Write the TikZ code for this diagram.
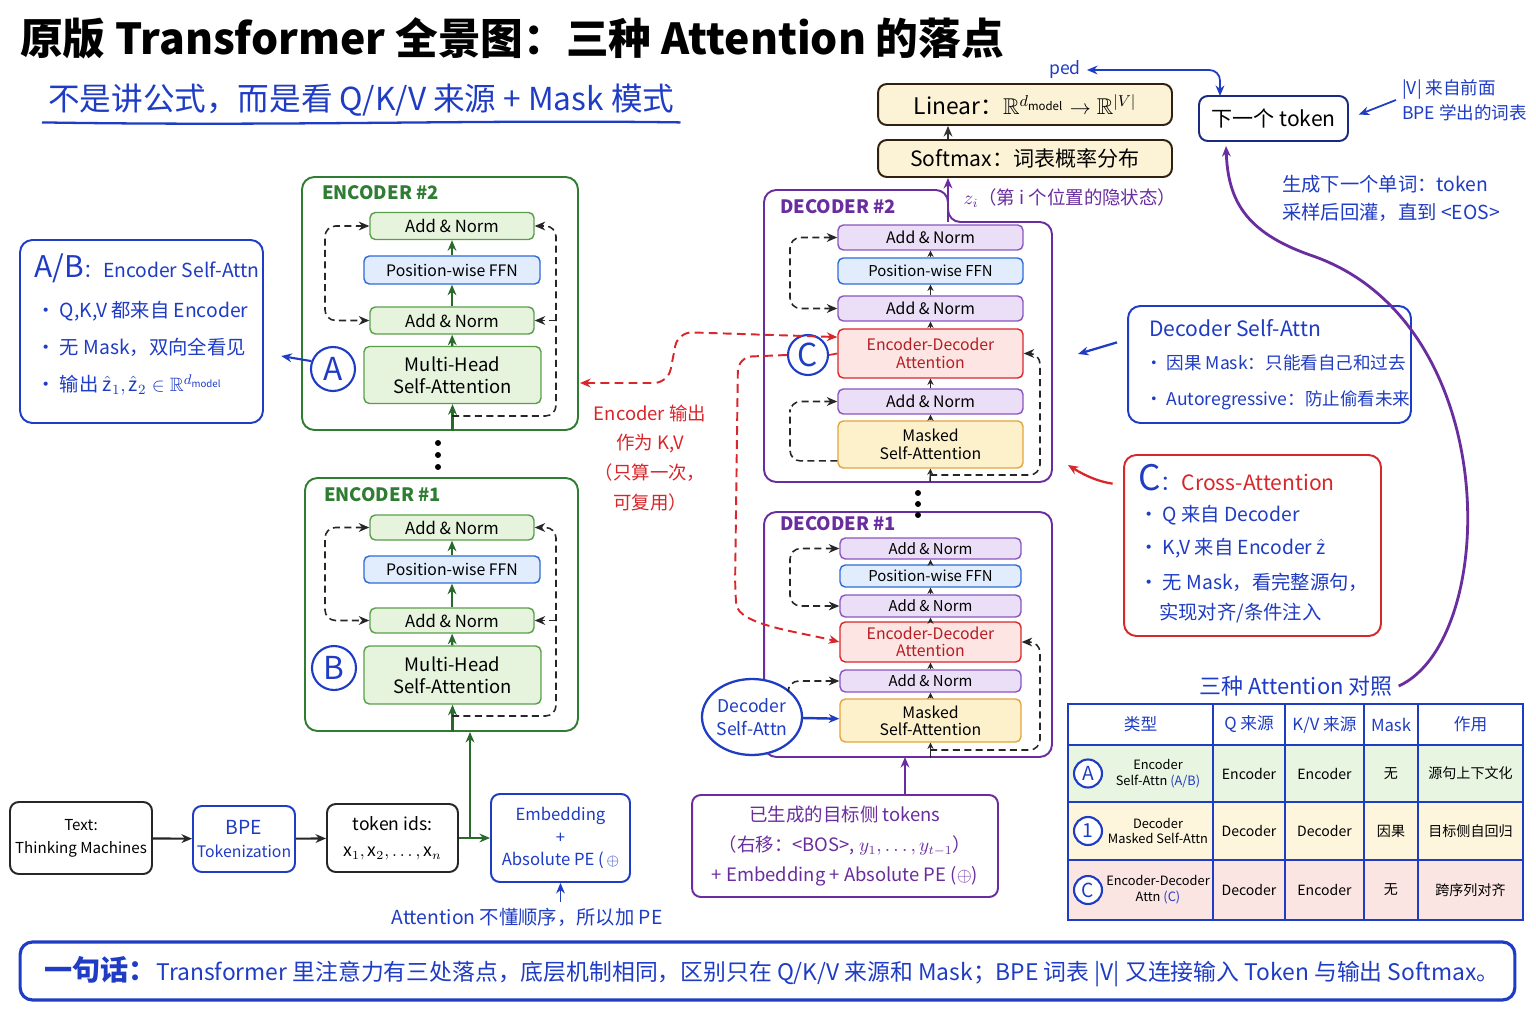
\documentclass[tikz,border=0pt]{standalone}
\usepackage{amsmath,amssymb}
\usepackage{xcolor}
\usepackage{fontspec}
\setmainfont{Noto Sans CJK SC}
\usetikzlibrary{arrows.meta,positioning,shapes.geometric,calc}

\definecolor{ink}{HTML}{1F3CC4}
\definecolor{navy}{HTML}{1A2A80}
\definecolor{encgreen}{HTML}{2E7D32}
\definecolor{encline}{HTML}{5A9E4B}
\definecolor{encfill}{HTML}{E6F4DD}
\definecolor{ffnline}{HTML}{2F6BD8}
\definecolor{ffnfill}{HTML}{E1ECFD}
\definecolor{decpurple}{HTML}{6A2D9F}
\definecolor{decline}{HTML}{8A55C0}
\definecolor{decfill}{HTML}{EADFF7}
\definecolor{edared}{HTML}{D9262A}
\definecolor{edatext}{HTML}{B51D22}
\definecolor{edafill}{HTML}{FDE5E3}
\definecolor{msaline}{HTML}{E3A43C}
\definecolor{msafill}{HTML}{FDF1CC}
\definecolor{linfill}{HTML}{FCF3D6}
\definecolor{rowA}{HTML}{E8F5E1}
\definecolor{rowB}{HTML}{FDF6DC}
\definecolor{rowC}{HTML}{FBE5E2}

\begin{document}
\begin{tikzpicture}[x=0.02cm, y=-0.02cm, >={Stealth[length=6pt,width=5pt]},
    boxframe/.style={draw, rounded corners=7pt, line width=1.1pt, fill=white},
    encframe/.style={boxframe, draw=encgreen},
    decframe/.style={boxframe, draw=decpurple},
    blk/.style={draw, rounded corners=3pt, line width=0.8pt, inner sep=0pt},
    eAN/.style={blk, draw=encline, fill=encfill, minimum width=3.28cm, minimum height=0.54cm, font=\fontsize{9.5}{11}\selectfont},
    eFFN/.style={blk, draw=ffnline, fill=ffnfill, minimum width=3.52cm, minimum height=0.56cm, font=\fontsize{9}{11}\selectfont},
    eMHA/.style={blk, draw=encline, fill=encfill, minimum width=3.54cm, minimum height=1.14cm, align=center, font=\fontsize{10.5}{12.5}\selectfont},
    dAN/.style={blk, draw=decline, fill=decfill, minimum width=3.7cm, font=\fontsize{9}{10}\selectfont},
    dFFN/.style={blk, draw=ffnline, fill=ffnfill, minimum width=3.7cm, font=\fontsize{8.5}{10}\selectfont},
    dEDA/.style={blk, draw=edared, fill=edafill, text=edatext, minimum width=3.7cm, align=center, font=\fontsize{9}{10.5}\selectfont},
    dMSA/.style={blk, draw=msaline, fill=msafill, minimum width=3.7cm, align=center, font=\fontsize{9}{10.5}\selectfont},
    stacklabel/.style={anchor=west, font=\fontsize{10.5}{12}\selectfont\bfseries},
    tagcirc/.style={circle, draw=ink, line width=1.2pt, fill=white, text=ink, inner sep=0pt, minimum size=0.88cm, font=\fontsize{18}{18}\selectfont},
    resid/.style={draw=black!85, dashed, dash pattern=on 4pt off 2.5pt, line width=0.9pt, rounded corners=6pt},
    garr/.style={->, draw=encgreen!85!black, line width=1.2pt},
    karr/.style={->, draw=black!85, line width=0.8pt, >={Stealth[length=3.5pt,width=3.5pt]}},
    parr/.style={->, draw=decpurple, line width=1.4pt},
    barr/.style={->, draw=ink, line width=1pt},
    rarr/.style={->, draw=edared, line width=1pt},
    kvline/.style={draw=edared, dashed, dash pattern=on 5pt off 3pt, line width=1.1pt, rounded corners=8pt},
    bluenote/.style={text=ink, align=left},
    iobox/.style={draw, rounded corners=5pt, line width=1.1pt, fill=white, align=center, inner sep=0pt}]

    \fill[white] (0,0) rectangle (1536,1024);

    % title and subtitle
    \node[anchor=west, font=\fontsize{24.3}{28}\selectfont\bfseries] (title) at (14,38) {原版 Transformer 全景图：三种 Attention 的落点};
    \node[anchor=west, text=ink, font=\fontsize{18}{20}\selectfont] (subtitle) at (42,100) {不是讲公式，而是看 Q/K/V 来源 + Mask 模式};
    \draw[ink, line width=1.3pt] (subtitle.south west) .. controls +(250,4) and +(-200,-3) .. (subtitle.south east);

    % output head
    \node[iobox, draw=black!75!brown, fill=linfill, minimum width=5.88cm, minimum height=0.82cm, font=\fontsize{13}{14}\selectfont] (linear) at (1025,104.5) {Linear：$\mathbb{R}^{d_{\mathrm{model}}}\rightarrow\mathbb{R}^{|V|}$};
    \node[iobox, draw=black!75!brown, fill=linfill, minimum width=5.88cm, minimum height=0.74cm, font=\fontsize{12}{14}\selectfont] (softmax) at (1025,158.5) {Softmax：词表概率分布};
    \coordinate (d2top) at (948,222);
    \draw[parr] (d2top) -- (d2top |- softmax.south);
    \draw[->, line width=1.1pt, black!80] (softmax.north -| d2top) -- (linear.south -| d2top);
    \node[text=decpurple, font=\fontsize{10.5}{12}\selectfont] (zlabel) at (1070,198) {$z_i$（第 i 个位置的隐状态）};

    \node[iobox, draw=navy, minimum width=2.98cm, minimum height=0.9cm, font=\fontsize{12}{14}\selectfont] (nexttok) at (1273.5,118.5) {下一个 token};
    \node[text=ink, font=\fontsize{10}{12}\selectfont] (ped) at (1065,70) {ped};
    \coordinate (ntin) at (1220,96);
    \draw[barr, <->, rounded corners=6pt] (ped.east) -| (ntin);
    \node[bluenote, anchor=west, font=\fontsize{10}{14}\selectfont] (vnote) at (1396,100) {|V| 来自前面\\BPE 学出的词表};
    \draw[barr, shorten >=6pt] (vnote.west) -- (nexttok.east);
    \node[bluenote, anchor=west, font=\fontsize{11}{16}\selectfont] (gennote) at (1276,198) {生成下一个单词：token\\采样后回灌，直到 <EOS>};

    % encoder #2
    \node[encframe, minimum width=5.52cm, minimum height=5.06cm] (enc2) at (440,303.5) {};
    \node[stacklabel, text=encgreen] (enc2lbl) at (316,193) {ENCODER \#2};
    \node[eAN] (an2t) at (452,226) {Add \& Norm};
    \node[eFFN] (ffn2) at (452,270) {Position-wise FFN};
    \node[eAN] (an2b) at (452,320.5) {Add \& Norm};
    \node[eMHA] (mha2) at (452.5,375) {Multi-Head\\Self-Attention};
    \node[tagcirc] (tagA) at (333,369) {A};
    \foreach \a/\b in {mha2/an2b, an2b/ffn2, ffn2/an2t}
        \draw[garr] (\a) -- (\b);
    \draw[garr] (mha2.south |- enc2.south) -- (mha2.south);
    \coordinate (e2in) at (452,416);
    \coordinate (e2rail) at (556,416);
    \draw[resid, <->] (an2t.west) -| (325,270) |- (an2b.west);
    \draw[resid, ->] (e2in) -- (e2rail) |- (an2t.east);
    \draw[resid, ->] (e2rail |- an2b.east) -- (an2b.east);

    \foreach \y in {443,455,467}
        \fill (438,\y) circle (1.7pt);

    % encoder #1
    \node[encframe, minimum width=5.46cm, minimum height=5.06cm] (enc1) at (441.5,604.5) {};
    \node[stacklabel, text=encgreen] (enc1lbl) at (318,495) {ENCODER \#1};
    \node[eAN, minimum height=0.5cm] (an1t) at (452,527.5) {Add \& Norm};
    \node[eFFN, minimum height=0.54cm] (ffn1) at (452,569.5) {Position-wise FFN};
    \node[eAN, minimum height=0.5cm] (an1b) at (452,620.5) {Add \& Norm};
    \node[eMHA, minimum height=1.16cm] (mha1) at (452.5,675) {Multi-Head\\Self-Attention};
    \node[tagcirc] (tagB) at (334,668) {B};
    \foreach \a/\b in {mha1/an1b, an1b/ffn1, ffn1/an1t}
        \draw[garr] (\a) -- (\b);
    \draw[garr] (mha1.south |- enc1.south) -- (mha1.south);
    \coordinate (e1in) at (452,716);
    \coordinate (e1rail) at (556,716);
    \draw[resid, <->] (an1t.west) -| (325,570) |- (an1b.west);
    \draw[resid, ->] (e1in) -- (e1rail) |- (an1t.east);
    \draw[resid, ->] (e1rail |- an1b.east) -- (an1b.east);

    % A/B callout
    \node[boxframe, draw=ink, minimum width=4.86cm, minimum height=3.66cm] (abnote) at (141.5,331.5) {};
    \node[bluenote, anchor=west, font=\fontsize{11}{13}\selectfont] (abhead) at (28,268) {{\fontsize{17}{17}\selectfont A/B}：Encoder Self-Attn};
    \node[bluenote, anchor=west, font=\fontsize{11}{13}\selectfont] (ab1) at (30,311) {• Q,K,V 都来自 Encoder};
    \node[bluenote, anchor=west, font=\fontsize{11}{13}\selectfont] (ab2) at (30,347) {• 无 Mask，双向全看见};
    \node[bluenote, anchor=west, font=\fontsize{11}{13}\selectfont] (ab3) at (30,385) {• 输出 $\hat{\mathrm{z}}_1,\hat{\mathrm{z}}_2\in\mathbb{R}^{d_{\mathrm{model}}}$};
    \draw[barr, line width=1.2pt, shorten >=10pt] (tagA.160) -- (abnote.-10);

    % input pipeline
    \node[iobox, draw=black!85, minimum width=2.84cm, minimum height=1.44cm, font=\fontsize{8.6}{13}\selectfont] (srctext) at (81,838) {Text:\\Thinking Machines};
    \node[iobox, draw=ink, text=ink, minimum width=2.04cm, minimum height=1.32cm, font=\fontsize{9}{13}\selectfont] (bpe) at (244,839) {{\fontsize{11}{13}\selectfont BPE}\\Tokenization};
    \node[iobox, draw=black!85, minimum width=2.62cm, minimum height=1.36cm, font=\fontsize{10}{15}\selectfont] (tokids) at (392.5,838) {token ids:\\$\mathrm{x}_1,\mathrm{x}_2,\dots,\mathrm{x}_n$};
    \node[iobox, draw=ink, text=ink, minimum width=2.78cm, minimum height=1.76cm, font=\fontsize{9.5}{13}\selectfont] (embed) at (560.5,838) {Embedding\\+\\Absolute PE (\,$\oplus$};
    \draw[->, line width=1.2pt, black!85] (srctext) -- (bpe);
    \draw[->, line width=1.2pt, black!85] (bpe) -- (tokids);
    \draw[garr] (tokids) -- (embed);
    \coordinate (encjoin) at (470,838);
    \draw[garr] (encjoin) -- (encjoin |- enc1.south);
    \node[bluenote, font=\fontsize{11}{13}\selectfont] (penote) at (527,917) {Attention 不懂顺序，所以加 PE};
    \draw[barr, line width=0.8pt] (penote.north -| embed.south) -- (embed.south);

    % decoder #2
    \draw[decpurple, line width=1.1pt, rounded corners=7pt] (764,482) -- (764,190) -- (948,190) -- (948,222) -- (1052,222) -- (1052,482) -- cycle;
    \node[stacklabel, text=decpurple] (dec2lbl) at (774,207) {DECODER \#2};
    \node[dAN, minimum height=0.5cm] (d2an3) at (930.5,237.5) {Add \& Norm};
    \node[dFFN, minimum height=0.52cm] (d2ffn) at (930.5,271) {Position-wise FFN};
    \node[dAN, minimum height=0.5cm] (d2an2) at (930.5,308.5) {Add \& Norm};
    \node[dEDA, minimum height=0.98cm] (d2eda) at (930.5,353.5) {Encoder-Decoder\\Attention};
    \node[dAN, minimum height=0.5cm] (d2an1) at (930.5,401.5) {Add \& Norm};
    \node[dMSA, minimum height=0.94cm] (d2msa) at (930.5,444.5) {Masked\\Self-Attention};
    \foreach \a/\b in {d2msa/d2an1, d2an1/d2eda, d2eda/d2an2, d2an2/d2ffn, d2ffn/d2an3}
        \draw[karr] (\a) -- (\b);
    \coordinate (d2bot) at (930,482);
    \draw[karr] (d2bot) -- (d2msa.south);
    \coordinate (d2in) at (930,475);
    \coordinate (d2rail) at (1040,475);
    \draw[resid, <->] (d2an3.west) -| (790,270) |- (d2an2.west);
    \draw[resid, ->] (d2msa.-170) -| (790,420) |- (d2an1.west);
    \draw[resid, ->] (d2in) -- (d2rail) |- (d2eda.east);
    \node[tagcirc, minimum size=0.8cm] (tagC) at (808,355) {C};
    \draw[edared, line width=1pt] (tagC.east) -- (d2eda.west);

    % decoder #1
    \node[decframe, minimum width=5.76cm, minimum height=4.9cm] (dec1) at (908,634.5) {};
    \foreach \y in {493,504,515}
        \fill (918,\y) circle (1.7pt);
    \node[stacklabel, text=decpurple] (dec1lbl) at (774,524) {DECODER \#1};
    \node[dAN, minimum width=3.62cm, minimum height=0.42cm, font=\fontsize{8.5}{10}\selectfont] (d1an3) at (930.5,548.5) {Add \& Norm};
    \node[dFFN, minimum width=3.62cm, minimum height=0.44cm] (d1ffn) at (930.5,576) {Position-wise FFN};
    \node[dAN, minimum width=3.62cm, minimum height=0.44cm, font=\fontsize{8.5}{10}\selectfont] (d1an2) at (930.5,606) {Add \& Norm};
    \node[dEDA, minimum width=3.62cm, minimum height=0.8cm, font=\fontsize{9}{9.7}\selectfont] (d1eda) at (930.5,642) {Encoder-Decoder\\Attention};
    \node[dAN, minimum width=3.62cm, minimum height=0.44cm, font=\fontsize{8.5}{10}\selectfont] (d1an1) at (930.5,681) {Add \& Norm};
    \node[dMSA, minimum width=3.62cm, minimum height=0.86cm, font=\fontsize{9}{9.7}\selectfont] (d1msa) at (930.5,720.5) {Masked\\Self-Attention};
    \foreach \a/\b in {d1msa/d1an1, d1an1/d1eda, d1eda/d1an2, d1an2/d1ffn, d1ffn/d1an3}
        \draw[karr] (\a) -- (\b);
    \draw[karr] (d1msa.south |- dec1.south) -- (d1msa.south);
    \coordinate (d1in) at (930,750);
    \coordinate (d1rail) at (1040,750);
    \draw[resid, <->] (d1an3.west) -| (790,580) |- (d1an2.west);
    \draw[resid, ->] (d1in) -- (d1rail) |- (d1eda.east);

    \node[ellipse, draw=ink, line width=1.3pt, fill=white, text=ink, minimum width=2cm, minimum height=1.52cm, inner sep=0pt, align=center, font=\fontsize{10}{13}\selectfont] (dsa) at (752,717) {Decoder\\Self-Attn};
    \draw[barr, line width=1.4pt] (dsa) -- (d1msa);
    \draw[resid, ->] (dsa.north east) |- (d1an1.west);

    % target side input
    \node[iobox, draw=decpurple, text=decpurple, minimum width=6.12cm, minimum height=2.04cm, font=\fontsize{10.5}{17}\selectfont] (target) at (845,846) {已生成的目标侧 tokens\\（右移：<BOS>, $y_1,\dots,y_{t-1}$）\\+ Embedding + Absolute PE ($\oplus$)};
    \coordinate (dec1in) at (905,757);
    \draw[parr] (target.north -| dec1in) -- (dec1in);

    % encoder output to K,V
    \coordinate (kvout) at (580,383);
    \draw[kvline, <->] (kvout) -- (668,383) -- (678,332) -- (d2eda.170);
    \draw[kvline, ->] (tagC.west) -- (738,357) -- (735,590) .. controls (738,625) and (800,632) .. (d1eda.west);
    \node[text=edared, align=center, font=\fontsize{10.5}{17}\selectfont] (kvnote) at (650,458) {Encoder 输出\\作为 K,V\\（只算一次，\\可复用）};

    % decoder self-attn callout
    \node[boxframe, draw=ink, minimum width=5.66cm, minimum height=2.34cm] (dsnote) at (1269.5,364.5) {};
    \node[bluenote, anchor=west, font=\fontsize{12}{14}\selectfont] (dshead) at (1143,328) {Decoder Self-Attn};
    \node[bluenote, anchor=west, font=\fontsize{10}{13}\selectfont] (ds1) at (1139,363) {• 因果 Mask：只能看自己和过去};
    \node[bluenote, anchor=west, font=\fontsize{10}{13}\selectfont] (ds2) at (1139,400) {• Autoregressive：防止偷看未来};
    \coordinate (dsptr) at (1078,354);
    \draw[barr, line width=1.3pt, shorten <=6pt] (dsnote.170) -- (dsptr);

    % cross-attn callout
    \node[boxframe, draw=edared, minimum width=5.14cm, minimum height=3.62cm] (cnote) at (1252.5,545.5) {};
    \node[anchor=west, font=\fontsize{12}{14}\selectfont] (chead) at (1132,478) {{\color{ink}\fontsize{20}{20}\selectfont C}\textcolor{ink}{：}\textcolor{edared}{Cross-Attention}};
    \node[bluenote, anchor=west, font=\fontsize{11}{13}\selectfont] (c1) at (1133,515) {• Q 来自 Decoder};
    \node[bluenote, anchor=west, font=\fontsize{11}{13}\selectfont] (c2) at (1133,548) {• K,V 来自 Encoder $\hat{\mathrm{z}}$};
    \node[bluenote, anchor=west, font=\fontsize{11}{13}\selectfont] (c3) at (1133,582) {• 无 Mask，看完整源句，};
    \node[bluenote, anchor=west, font=\fontsize{11}{13}\selectfont] (c4) at (1153,613) {实现对齐/条件注入};
    \coordinate (cptr) at (1068,465);
    \draw[rarr, line width=1.3pt, shorten <=6pt] (cnote.155) to[bend left=12] (cptr);

    % comparison table
    \node[text=ink, font=\fontsize{12.5}{14}\selectfont] (tbltitle) at (1296,686) {三种 Attention 对照};
    \fill[white] (1068,704) rectangle (1523,745);
    \fill[rowA] (1068,745) rectangle (1523,802);
    \fill[rowB] (1068,802) rectangle (1523,860);
    \fill[rowC] (1068,860) rectangle (1523,920);
    \foreach \x in {1213,1285,1364,1418}
        \draw[ink, line width=0.9pt] (\x,704) -- (\x,920);
    \foreach \y in {745,802,860}
        \draw[ink, line width=0.9pt] (1068,\y) -- (1523,\y);
    \draw[ink, line width=1.2pt] (1068,704) rectangle (1523,920);
    \foreach \n/\x/\t in {1/1140.5/类型, 2/1249/Q 来源, 3/1324.5/{K/V 来源}, 4/1391/Mask, 5/1470.5/作用}
        \node[text=ink, font=\fontsize{9.5}{11}\selectfont] (hd\n) at (\x,724.5) {\t};
    \foreach \n/\y/\mk/\typ/\q/\kv/\mask/\role in {
        a/773.5/A/{Encoder\\Self-Attn \textcolor{ink}{(A/B)}}/Encoder/Encoder/无/源句上下文化,
        b/831/1/{Decoder\\Masked Self-Attn}/Decoder/Decoder/因果/目标侧自回归,
        c/890/C/{Encoder-Decoder\\Attn \textcolor{ink}{(C)}}/Decoder/Encoder/无/跨序列对齐}{
        \node[tagcirc, minimum size=0.56cm, font=\fontsize{11}{11}\selectfont] (mk\n) at (1088,\y) {\mk};
        \node[align=center, font=\fontsize{7.3}{9}\selectfont] (ty\n) at (1158,\y) {\typ};
        \node[font=\fontsize{8}{10}\selectfont] (q\n) at (1249,\y) {\q};
        \node[font=\fontsize{8}{10}\selectfont] (kv\n) at (1324.5,\y) {\kv};
        \node[font=\fontsize{8}{10}\selectfont] (ms\n) at (1391,\y) {\mask};
        \node[font=\fontsize{8}{10}\selectfont] (ro\n) at (1470.5,\y) {\role};
    }

    % loop back to next token
    \coordinate (ntbot) at (1226,146);
    \draw[parr, line width=1.6pt] (tbltitle.east) .. controls (1500,640) and (1505,320) .. (1310,255) .. controls (1245,232) and (1228,200) .. (ntbot);

    % summary banner
    \node[boxframe, draw=ink, line width=1.8pt, minimum width=29.9cm, minimum height=1.16cm] (banner) at (767.5,971) {};
    \node[anchor=west, text=ink, font=\fontsize{13}{14}\selectfont] (bannertxt) at (38,972) {{\fontsize{16}{16}\selectfont\bfseries 一句话：}Transformer 里注意力有三处落点，底层机制相同，区别只在 Q/K/V 来源和 Mask；BPE 词表 |V| 又连接输入 Token 与输出 Softmax。};
\end{tikzpicture}
\end{document}
